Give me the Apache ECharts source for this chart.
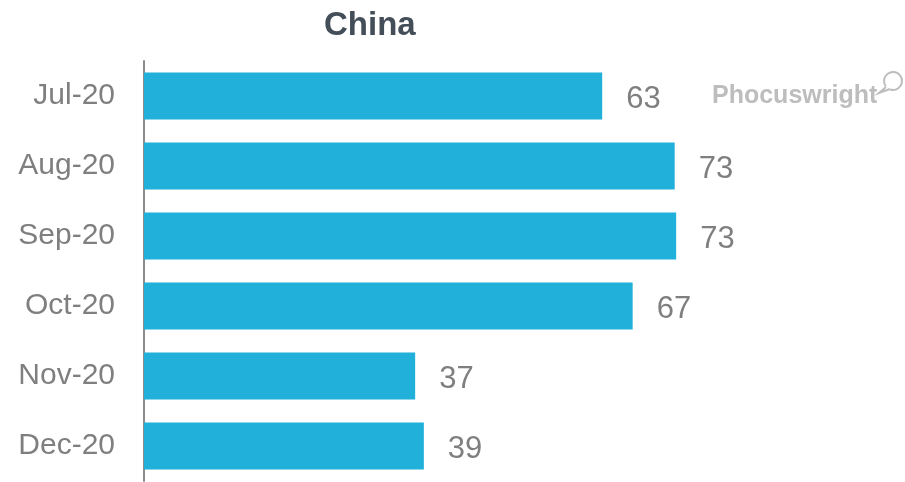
<!DOCTYPE html>
<html>
<head>
<meta charset="utf-8">
<script src="https://cdn.jsdelivr.net/npm/echarts@6/dist/echarts.min.js"></script>
<style>
  html, body { margin: 0; padding: 0; background: #fff; }
  #main { width: 905px; height: 482px; }
</style>
</head>
<body>
<div id="main"></div>
<script>
// months, top to bottom
const months = ['Jul-20', 'Aug-20', 'Sep-20', 'Oct-20', 'Nov-20', 'Dec-20']
const values = [63.2, 73.2, 73.4, 67.4, 37.4, 38.6]

const chart = echarts.init(document.getElementById('main'))

chart.setOption({
  animation: false,
  title: {
    text: 'China',
    left: 319,
    top: 4,
    textStyle: {
      fontFamily: 'Liberation Sans',
      fontSize: 33,
      fontWeight: 'bold',
      color: '#434e59'
    }
  },
  grid: {
    left: 144,
    right: 36,
    top: 61,
    bottom: 1,
    containLabel: false
  },
  xAxis: {
    type: 'value',
    min: 0,
    max: 100,
    show: false
  },
  yAxis: {
    type: 'category',
    inverse: true,
    data: months,
    axisLine: { show: true, lineStyle: { color: '#8c8c8c', width: 2 } },
    axisTick: { show: false },
    axisLabel: {
      margin: 29,
      fontFamily: 'Liberation Sans',
      fontSize: 30,
      color: '#7f7f7f',
      padding: [4, 0, 0, 0]
    }
  },
  series: [{
    type: 'bar',
    data: values,
    barCategoryGap: '33%',
    itemStyle: { color: '#20b0da' },
    label: {
      show: true,
      position: 'right',
      distance: 24,
      offset: [0, 3],
      fontFamily: 'Liberation Sans',
      fontSize: 31,
      color: '#7f7f7f',
      formatter: p => Math.round(p.value)
    }
  }],
  graphic: [
    {
      type: 'text',
      left: 712,
      top: 84,
      style: {
        text: 'Phocuswright',
        fontFamily: 'Liberation Sans',
        fontSize: 25,
        fontWeight: 'bold',
        fill: '#bdbdbd'
      }
    },
    // speech bubble next to the logo
    {
      type: 'arc',
      shape: { cx: 893, cy: 81, r: 9, startAngle: Math.PI * 0.8, endAngle: Math.PI * 2.6 },
      style: { fill: 'none', stroke: '#bdbdbd', lineWidth: 2 }
    },
    {
      type: 'polyline',
      shape: { points: [[886, 87], [879, 93], [890, 89]] },
      style: { fill: 'none', stroke: '#bdbdbd', lineWidth: 2 }
    }
  ]
})
</script>
</body>
</html>
